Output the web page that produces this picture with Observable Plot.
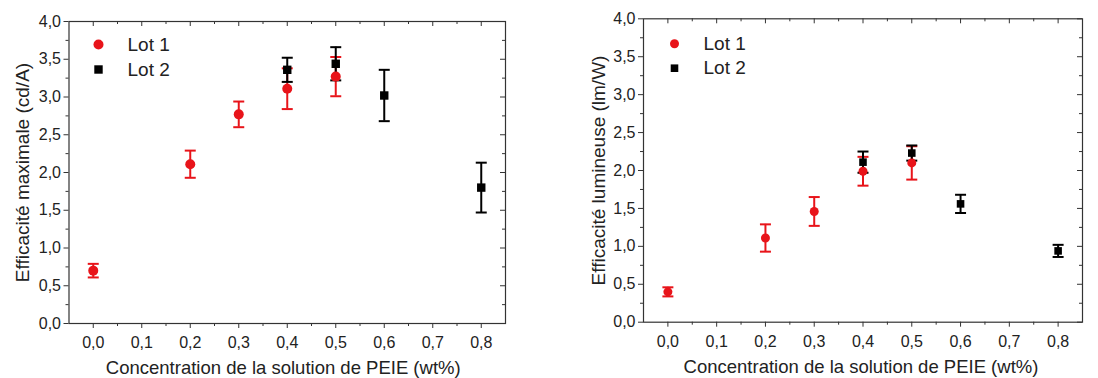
<!DOCTYPE html>
<html>
<head>
<meta charset="utf-8">
<script src="https://cdn.jsdelivr.net/npm/d3@7"></script>
<script src="https://cdn.jsdelivr.net/npm/@observablehq/plot@0.6"></script>
<style>
  body { margin: 0; background: #fff; }
  #wrap { display: flex; width: 1098px; height: 378px; }
  svg { font-family: "Liberation Sans", Arial, sans-serif; }
</style>
</head>
<body>
<div id="wrap"></div>
<script>
// ---- data ----
const concLot1 = [0.0, 0.2, 0.3, 0.4, 0.5];
const concLot2 = [0.4, 0.5, 0.6, 0.8];
// Efficacité maximale (cd/A)
const effMaxLot1 = [0.70, 2.11, 2.77, 3.11, 3.27];
const effMaxErrLot1 = [0.09, 0.18, 0.17, 0.27, 0.26];
const effMaxLot2 = [3.36, 3.44, 3.02, 1.80];
const effMaxErrLot2 = [0.16, 0.22, 0.34, 0.33];
// Efficacité lumineuse (lm/W)
const effLumLot1 = [0.40, 1.11, 1.46, 1.99, 2.10];
const effLumErrLot1 = [0.06, 0.18, 0.19, 0.19, 0.22];
const effLumLot2 = [2.11, 2.23, 1.56, 0.94];
const effLumErrLot2 = [0.14, 0.10, 0.12, 0.08];

const seriesNames = ["Lot 1", "Lot 2"];
const xMajor = [0, 0.1, 0.2, 0.3, 0.4, 0.5, 0.6, 0.7, 0.8];
const xMinor = [0.05, 0.15, 0.25, 0.35, 0.45, 0.55, 0.65, 0.75];
const yMajor = [0, 0.5, 1, 1.5, 2, 2.5, 3, 3.5, 4];
const yMinor = [0.25, 0.75, 1.25, 1.75, 2.25, 2.75, 3.25, 3.75];
const xTitle = "Concentration de la solution de PEIE (wt%)";
const yTitleLeft = "Efficacité maximale (cd/A)";
const yTitleRight = "Efficacité lumineuse (lm/W)";

const RED = "#e8141a";
const BLACK = "#000";
const fmt = d => d.toFixed(1).replace(".", ",");
const capSymbol = { draw(ctx, size) { const r = Math.sqrt(size / Math.PI); ctx.moveTo(-r, 0); ctx.lineTo(r, 0); } };

function rows(xs, ys, es) { return xs.map((x, i) => ({x, y: ys[i], e: es[i]})); }

function panel({width, height, mt, mb, ml, mr, l1, l2, yTitle, titleDx, xTitleDx, legend, r}) {
  const innerH = height - mt - mb, innerW = width - ml - mr;
  const bars = (data, color) => [
    Plot.ruleX(data, {x: "x", y1: d => d.y - d.e, y2: d => d.y + d.e, stroke: color, strokeWidth: 2}),
    Plot.dot(data, {x: "x", y: d => d.y - d.e, symbol: capSymbol, r: 5.5, stroke: color, strokeWidth: 2, fill: "none"}),
    Plot.dot(data, {x: "x", y: d => d.y + d.e, symbol: capSymbol, r: 5.5, stroke: color, strokeWidth: 2, fill: "none"})
  ];
  return Plot.plot({
    width, height, marginTop: mt, marginBottom: mb, marginLeft: ml, marginRight: mr,
    style: {fontFamily: '"Liberation Sans", Arial, sans-serif', background: "#fff", overflow: "visible"},
    x: {domain: [-0.05, 0.85]},
    y: {domain: [0, 4]},
    marks: [
      // ticks: bottom (out), top (in), left (out), right (in)
      Plot.tickX(xMajor, {x: d => d, insetTop: innerH, insetBottom: -5, stroke: "#333"}),
      Plot.tickX(xMinor, {x: d => d, insetTop: innerH, insetBottom: -3, stroke: "#333"}),
      Plot.tickX(xMajor, {x: d => d, insetTop: 0, insetBottom: innerH - 5, stroke: "#333"}),
      Plot.tickX(xMinor, {x: d => d, insetTop: 0, insetBottom: innerH - 3, stroke: "#333"}),
      Plot.tickY(yMajor, {y: d => d, insetLeft: -5, insetRight: innerW, stroke: "#333"}),
      Plot.tickY(yMinor, {y: d => d, insetLeft: -3, insetRight: innerW, stroke: "#333"}),
      Plot.tickY(yMajor, {y: d => d, insetLeft: innerW - 5, insetRight: 0, stroke: "#333"}),
      Plot.tickY(yMinor, {y: d => d, insetLeft: innerW - 3, insetRight: 0, stroke: "#333"}),
      Plot.axisX({ticks: xMajor, tickSize: 0, tickPadding: 13, tickFormat: fmt, fontSize: 16, fill: "#222", label: null}),
      Plot.axisY({ticks: yMajor, tickSize: 0, tickPadding: 8, tickFormat: fmt, fontSize: 16, fill: "#222", label: null}),
      Plot.frame({stroke: "#333", strokeWidth: 1.2}),
      ...bars(l1, RED),
      ...bars(l2, BLACK),
      Plot.dot(l1, {x: "x", y: "y", r: r, fill: RED, symbol: "circle"}),
      Plot.dot(l2, {x: "x", y: "y", r: r * 0.95, fill: BLACK, symbol: "square"}),
      // legend
      Plot.dot([seriesNames[0]], {frameAnchor: "top-left", dx: legend.dx, dy: legend.dy1, r: r, fill: RED, symbol: "circle"}),
      Plot.dot([seriesNames[1]], {frameAnchor: "top-left", dx: legend.dx, dy: legend.dy2, r: r * 0.95, fill: BLACK, symbol: "square"}),
      Plot.text([seriesNames[0]], {text: d => d, frameAnchor: "top-left", dx: legend.tx, dy: legend.dy1, textAnchor: "start", lineAnchor: "middle", fontSize: 19, fill: "#222"}),
      Plot.text([seriesNames[1]], {text: d => d, frameAnchor: "top-left", dx: legend.tx, dy: legend.dy2, textAnchor: "start", lineAnchor: "middle", fontSize: 19, fill: "#222"}),
      // titles
      Plot.text([xTitle], {text: d => d, frameAnchor: "bottom", dx: xTitleDx, dy: 45, textAnchor: "middle", lineAnchor: "middle", fontSize: 18.5, fill: "#222"}),
      Plot.text([yTitle], {text: d => d, frameAnchor: "left", dx: titleDx, rotate: -90, textAnchor: "middle", lineAnchor: "middle", fontSize: 19, fill: "#222"})
    ]
  });
}

const wrap = document.getElementById("wrap");
wrap.append(panel({
  width: 549, height: 378, mt: 21, mb: 55, ml: 68.5, mr: 44,
  l1: rows(concLot1, effMaxLot1, effMaxErrLot1),
  l2: rows(concLot2, effMaxLot2, effMaxErrLot2),
  yTitle: yTitleLeft, titleDx: -46, xTitleDx: -4,
  legend: {dx: 29.5, dy1: 23, dy2: 48, tx: 58.5},
  r: 5
}));
wrap.append(panel({
  width: 549, height: 378, mt: 18.3, mb: 56.3, ml: 94, mr: 16,
  l1: rows(concLot1, effLumLot1, effLumErrLot1),
  l2: rows(concLot2, effLumLot2, effLumErrLot2),
  yTitle: yTitleRight, titleDx: -45, xTitleDx: -2,
  legend: {dx: 31, dy1: 25, dy2: 49.4, tx: 60},
  r: 4.5
}));
</script>
</body>
</html>
